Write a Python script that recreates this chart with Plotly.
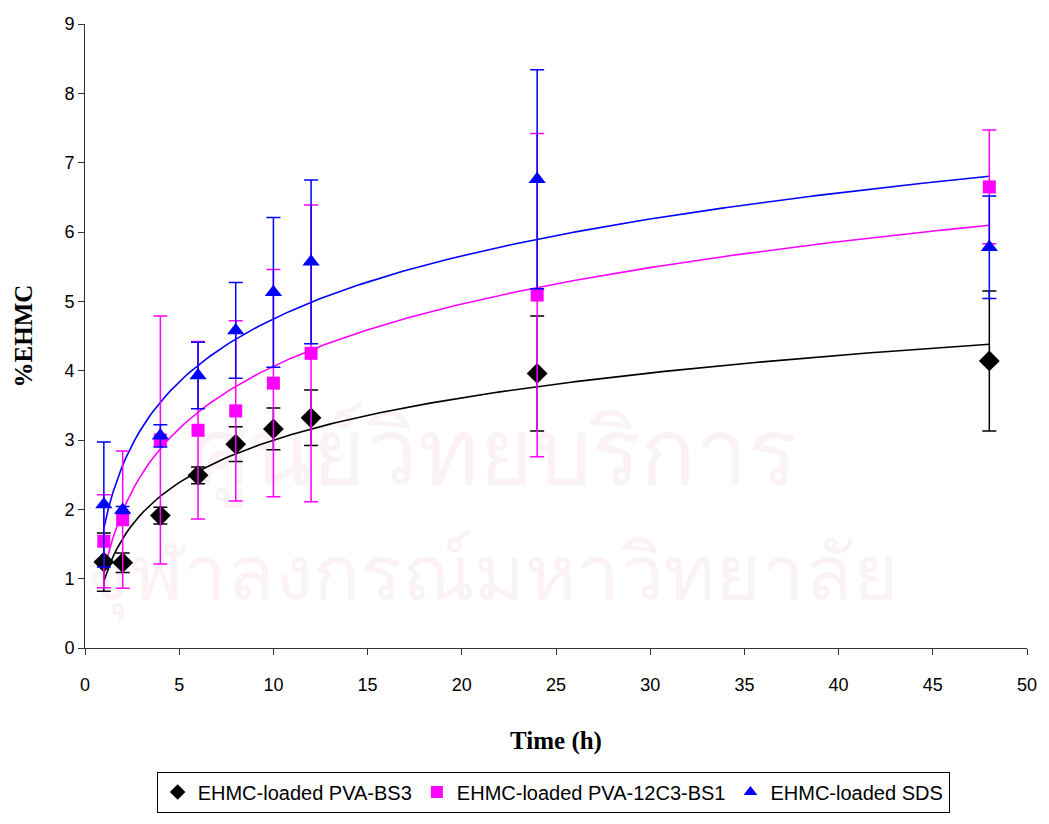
import numpy as np
import plotly.graph_objects as go

# Sampling times (h)
time_h = [1, 2, 4, 6, 8, 10, 12, 24, 48]

# %EHMC released, mean and standard deviation for each formulation
pva_bs3 = [1.24, 1.23, 1.91, 2.49, 2.94, 3.16, 3.32, 3.96, 4.14]
pva_bs3_sd = [0.42, 0.14, 0.12, 0.12, 0.25, 0.30, 0.40, 0.83, 1.01]

pva_12c3 = [1.54, 1.85, 3.00, 3.14, 3.42, 3.82, 4.25, 5.09, 6.65]
pva_12c3_sd = [0.67, 0.99, 1.79, 1.28, 1.30, 1.64, 2.14, 2.33, 0.82]

sds = [2.07, 1.99, 3.06, 3.93, 4.58, 5.13, 5.57, 6.76, 5.78]
sds_sd = [0.90, 0.05, 0.16, 0.48, 0.69, 1.08, 1.18, 1.58, 0.74]

names = ["EHMC-loaded PVA-BS3", "EHMC-loaded PVA-12C3-BS1", "EHMC-loaded SDS"]
colors = ["#000000", "#FF00FF", "#0000FF"]
symbols = ["diamond", "square", "triangle-up"]
sizes = [16, 13, 15]

x_ticks = [0, 5, 10, 15, 20, 25, 30, 35, 40, 45, 50]
y_ticks = [0, 1, 2, 3, 4, 5, 6, 7, 8, 9]

# background watermark lines
watermark = ["ศูนย์วิทยบริการ", "จุฬาลงกรณ์มหาวิทยาลัย"]
watermark_x = [21.7, 21.6]
watermark_y = [2.70, 0.98]
watermark_size = [92, 78]

fig = go.Figure()

# watermark goes in first so every mark is drawn over it
for txt, wx, wy, ws in zip(watermark, watermark_x, watermark_y, watermark_size):
    fig.add_trace(go.Scatter(
        x=[wx], y=[wy], mode="text", text=[txt], textposition="middle center",
        textfont=dict(family="Noto Sans, DejaVu Sans", size=ws, color="#faf2f6"),
        showlegend=False, hoverinfo="skip", cliponaxis=False))

t_arr = np.array(time_h, dtype=float)
t_fit = np.linspace(1, 48, 200)

series = [(pva_bs3, pva_bs3_sd), (pva_12c3, pva_12c3_sd), (sds, sds_sd)]

# logarithmic trend lines (least squares on ln t)
for (vals, _), col in zip(series, colors):
    slope, icpt = np.polyfit(np.log(t_arr), np.array(vals), 1)
    fig.add_trace(go.Scatter(
        x=t_fit, y=slope * np.log(t_fit) + icpt, mode="lines",
        line=dict(color=col, width=1.6), showlegend=False, hoverinfo="skip"))

for (vals, sd), name, col, sym, sz in zip(series, names, colors, symbols, sizes):
    fig.add_trace(go.Scatter(
        x=time_h, y=vals, mode="markers", name=name,
        marker=dict(symbol=sym, size=sz, color=col, line=dict(width=0)),
        error_y=dict(type="data", array=sd, visible=True, color=col,
                     thickness=1.5, width=7)))

fig.update_layout(
    width=1049, height=824,
    margin=dict(l=85, r=16, t=24, b=167),
    paper_bgcolor="white", plot_bgcolor="rgba(0,0,0,0)",
    font=dict(family="Liberation Sans, Arial", size=18, color="black"),
    showlegend=True,
    legend=dict(orientation="h", x=0.497, xanchor="center", y=-0.198, yanchor="top",
                bordercolor="black", borderwidth=1, bgcolor="white",
                font=dict(family="Liberation Sans, Arial", size=20),
                itemsizing="constant", tracegroupgap=0, itemwidth=30),
)

fig.update_xaxes(
    range=[0, 50], tickvals=x_ticks, ticktext=[str(v) for v in x_ticks],
    showgrid=False, zeroline=False, showline=True, linecolor="#333333", linewidth=1,
    ticks="outside", ticklen=6, tickcolor="#333333", ticklabelstandoff=14,
    title=dict(text="<b>Time (h)</b>", font=dict(family="Liberation Serif, Times New Roman", size=25),
               standoff=37),
)
fig.update_yaxes(
    range=[0, 9], tickvals=y_ticks, ticktext=[str(v) for v in y_ticks],
    showgrid=False, zeroline=False, showline=True, linecolor="#333333", linewidth=1,
    ticks="outside", ticklen=6, tickcolor="#333333",
    title=dict(text="<b>%EHMC</b>", font=dict(family="Liberation Serif, Times New Roman", size=25),
               standoff=24),
)

fig.write_html("out.html")
